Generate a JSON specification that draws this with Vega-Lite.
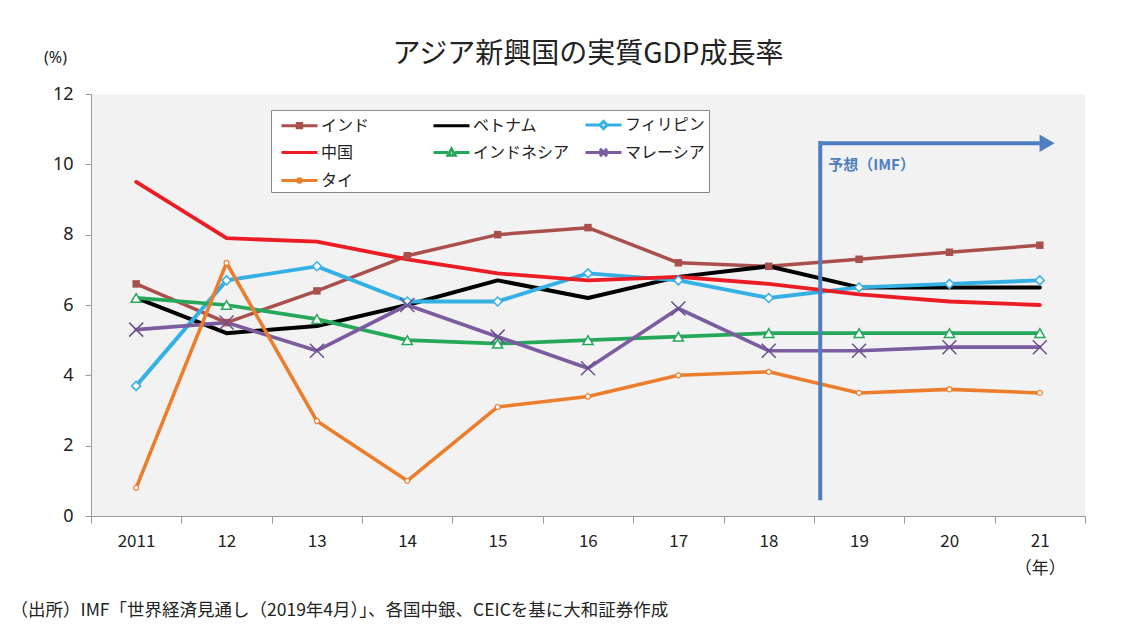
{
  "$schema": "https://vega.github.io/schema/vega-lite/v6.json",
  "width": 994,
  "height": 422,
  "autosize": {"type": "none"},
  "padding": {"left": 91, "top": 94, "right": 48, "bottom": 120},
  "background": "white",
  "title": {
    "text": "アジア新興国の実質GDP成長率",
    "font": "Noto Sans CJK JP",
    "fontSize": 28,
    "fontWeight": "normal",
    "color": "#222222",
    "anchor": "middle",
    "baseline": "alphabetic",
    "offset": -42
  },
  "config": {
    "view": {"fill": "#f2f2f2", "stroke": null},
    "font": "Noto Sans CJK JP"
  },
  "datasets": {
    "gdp": [
      {"country": "インド", "year": 2011, "value": 6.6},
      {"country": "インド", "year": 2012, "value": 5.5},
      {"country": "インド", "year": 2013, "value": 6.4},
      {"country": "インド", "year": 2014, "value": 7.4},
      {"country": "インド", "year": 2015, "value": 8.0},
      {"country": "インド", "year": 2016, "value": 8.2},
      {"country": "インド", "year": 2017, "value": 7.2},
      {"country": "インド", "year": 2018, "value": 7.1},
      {"country": "インド", "year": 2019, "value": 7.3},
      {"country": "インド", "year": 2020, "value": 7.5},
      {"country": "インド", "year": 2021, "value": 7.7},
      {"country": "ベトナム", "year": 2011, "value": 6.2},
      {"country": "ベトナム", "year": 2012, "value": 5.2},
      {"country": "ベトナム", "year": 2013, "value": 5.4},
      {"country": "ベトナム", "year": 2014, "value": 6.0},
      {"country": "ベトナム", "year": 2015, "value": 6.7},
      {"country": "ベトナム", "year": 2016, "value": 6.2},
      {"country": "ベトナム", "year": 2017, "value": 6.8},
      {"country": "ベトナム", "year": 2018, "value": 7.1},
      {"country": "ベトナム", "year": 2019, "value": 6.5},
      {"country": "ベトナム", "year": 2020, "value": 6.5},
      {"country": "ベトナム", "year": 2021, "value": 6.5},
      {"country": "フィリピン", "year": 2011, "value": 3.7},
      {"country": "フィリピン", "year": 2012, "value": 6.7},
      {"country": "フィリピン", "year": 2013, "value": 7.1},
      {"country": "フィリピン", "year": 2014, "value": 6.1},
      {"country": "フィリピン", "year": 2015, "value": 6.1},
      {"country": "フィリピン", "year": 2016, "value": 6.9},
      {"country": "フィリピン", "year": 2017, "value": 6.7},
      {"country": "フィリピン", "year": 2018, "value": 6.2},
      {"country": "フィリピン", "year": 2019, "value": 6.5},
      {"country": "フィリピン", "year": 2020, "value": 6.6},
      {"country": "フィリピン", "year": 2021, "value": 6.7},
      {"country": "中国", "year": 2011, "value": 9.5},
      {"country": "中国", "year": 2012, "value": 7.9},
      {"country": "中国", "year": 2013, "value": 7.8},
      {"country": "中国", "year": 2014, "value": 7.3},
      {"country": "中国", "year": 2015, "value": 6.9},
      {"country": "中国", "year": 2016, "value": 6.7},
      {"country": "中国", "year": 2017, "value": 6.8},
      {"country": "中国", "year": 2018, "value": 6.6},
      {"country": "中国", "year": 2019, "value": 6.3},
      {"country": "中国", "year": 2020, "value": 6.1},
      {"country": "中国", "year": 2021, "value": 6.0},
      {"country": "インドネシア", "year": 2011, "value": 6.2},
      {"country": "インドネシア", "year": 2012, "value": 6.0},
      {"country": "インドネシア", "year": 2013, "value": 5.6},
      {"country": "インドネシア", "year": 2014, "value": 5.0},
      {"country": "インドネシア", "year": 2015, "value": 4.9},
      {"country": "インドネシア", "year": 2016, "value": 5.0},
      {"country": "インドネシア", "year": 2017, "value": 5.1},
      {"country": "インドネシア", "year": 2018, "value": 5.2},
      {"country": "インドネシア", "year": 2019, "value": 5.2},
      {"country": "インドネシア", "year": 2020, "value": 5.2},
      {"country": "インドネシア", "year": 2021, "value": 5.2},
      {"country": "マレーシア", "year": 2011, "value": 5.3},
      {"country": "マレーシア", "year": 2012, "value": 5.5},
      {"country": "マレーシア", "year": 2013, "value": 4.7},
      {"country": "マレーシア", "year": 2014, "value": 6.0},
      {"country": "マレーシア", "year": 2015, "value": 5.1},
      {"country": "マレーシア", "year": 2016, "value": 4.2},
      {"country": "マレーシア", "year": 2017, "value": 5.9},
      {"country": "マレーシア", "year": 2018, "value": 4.7},
      {"country": "マレーシア", "year": 2019, "value": 4.7},
      {"country": "マレーシア", "year": 2020, "value": 4.8},
      {"country": "マレーシア", "year": 2021, "value": 4.8},
      {"country": "タイ", "year": 2011, "value": 0.8},
      {"country": "タイ", "year": 2012, "value": 7.2},
      {"country": "タイ", "year": 2013, "value": 2.7},
      {"country": "タイ", "year": 2014, "value": 1.0},
      {"country": "タイ", "year": 2015, "value": 3.1},
      {"country": "タイ", "year": 2016, "value": 3.4},
      {"country": "タイ", "year": 2017, "value": 4.0},
      {"country": "タイ", "year": 2018, "value": 4.1},
      {"country": "タイ", "year": 2019, "value": 3.5},
      {"country": "タイ", "year": 2020, "value": 3.6},
      {"country": "タイ", "year": 2021, "value": 3.5}
    ],
    "forecastV": [{"year": 2018.57, "value": 0.45, "value2": 10.66}],
    "forecastH": [{"year": 2018.57, "year2": 2021.0, "value": 10.6}],
    "arrowHead": [{"year": 2021.08, "value": 10.6}],
    "forecastLabel": [{"year": 2018.66, "value": 9.98, "label": "予想（IMF）"}]
  },
  "layer": [
    {
      "data": {"name": "gdp"},
      "mark": {"type": "line", "strokeJoin": "round", "strokeCap": "round"},
      "encoding": {
        "x": {
          "field": "year", "type": "quantitative",
          "scale": {"domain": [2010.5, 2021.5], "zero": false, "nice": false},
          "axis": {
            "values": [2010.5, 2011.5, 2012.5, 2013.5, 2014.5, 2015.5, 2016.5, 2017.5, 2018.5, 2019.5, 2020.5, 2021.5],
            "labelExpr": "datum.value == 2010.5 ? '2011' : (datum.value == 2020.5 ? ['21', '（年）'] : (datum.value == 2021.5 ? '' : format(datum.value + 0.5 - 2000, 'd')))",
            "labelOffset": 45,
            "labelOverlap": false,
            "labelFlush": false,
            "labelBound": false,
            "labelFont": "Noto Sans CJK JP",
            "labelFontSize": 17,
            "labelColor": "#222222",
            "labelPadding": 10,
            "labelLineHeight": 27,
            "labelBaseline": "top",
            "tickSize": 7,
            "tickColor": "#999999",
            "domainColor": "#999999",
            "grid": false,
            "title": "（出所）IMF「世界経済見通し（2019年4月）」、各国中銀、CEICを基に大和証券作成",
            "titleFont": "Noto Sans CJK JP",
            "titleFontSize": 17.5,
            "titleFontWeight": "normal",
            "titleColor": "#222222",
            "titleX": -81,
            "titleY": 94,
            "titleAlign": "left",
            "titleBaseline": "middle",
            "titleAnchor": "start"
          }
        },
        "y": {
          "field": "value", "type": "quantitative",
          "scale": {"domain": [0, 12], "nice": false},
          "axis": {
            "values": [0, 2, 4, 6, 8, 10, 12],
            "labelFont": "Noto Sans",
            "labelFontSize": 18,
            "labelColor": "#222222",
            "labelPadding": 12,
            "tickSize": 6,
            "tickColor": "#999999",
            "domainColor": "#999999",
            "grid": false,
            "title": "(%)",
            "titleFont": "Noto Sans",
            "titleFontSize": 16,
            "titleFontWeight": "normal",
            "titleColor": "#222222",
            "titleAngle": 0,
            "titleX": -36,
            "titleY": -37,
            "titleAlign": "center",
            "titleBaseline": "middle"
          }
        },
        "color": {
          "field": "country", "type": "nominal",
          "scale": {
            "domain": ["タイ", "マレーシア", "インドネシア", "中国", "フィリピン", "ベトナム", "インド"],
            "range": ["#ec7d2c", "#7a5c9f", "#25a85a", "#ec1c24", "#35b0e4", "#000000", "#a9504c"]
          },
          "legend": null
        },
        "strokeWidth": {
          "field": "country", "type": "nominal",
          "scale": {
            "domain": ["ベトナム", "フィリピン", "中国", "インドネシア", "マレーシア", "タイ", "インド"],
            "range": [4, 3.5, 4.5, 3.5, 4, 2.5, 2.5]
          },
          "legend": null
        }
      }
    },
    {
      "data": {"name": "gdp"},
      "transform": [{"filter": "datum.country == 'インド'"}],
      "mark": {"type": "point", "shape": "square", "filled": true, "color": "#a9504c", "size": 56, "opacity": 1},
      "encoding": {
        "x": {"field": "year", "type": "quantitative", "scale": {"domain": [2010.5, 2021.5], "zero": false, "nice": false}},
        "y": {"field": "value", "type": "quantitative", "scale": {"domain": [0, 12], "nice": false}}
      }
    },
    {
      "data": {"name": "gdp"},
      "transform": [{"filter": "datum.country == 'フィリピン'"}],
      "mark": {"type": "point", "shape": "diamond", "filled": true, "fill": "white", "stroke": "#35b0e4", "strokeWidth": 1.5, "size": 80, "opacity": 1},
      "encoding": {
        "x": {"field": "year", "type": "quantitative", "scale": {"domain": [2010.5, 2021.5], "zero": false, "nice": false}},
        "y": {"field": "value", "type": "quantitative", "scale": {"domain": [0, 12], "nice": false}}
      }
    },
    {
      "data": {"name": "gdp"},
      "transform": [{"filter": "datum.country == 'インドネシア'"}],
      "mark": {"type": "point", "shape": "triangle-up", "filled": true, "fill": "white", "stroke": "#25a85a", "strokeWidth": 1.5, "size": 100, "opacity": 1},
      "encoding": {
        "x": {"field": "year", "type": "quantitative", "scale": {"domain": [2010.5, 2021.5], "zero": false, "nice": false}},
        "y": {"field": "value", "type": "quantitative", "scale": {"domain": [0, 12], "nice": false}}
      }
    },
    {
      "data": {"name": "gdp"},
      "transform": [{"filter": "datum.country == 'マレーシア'"}],
      "mark": {"type": "point", "shape": "M-1,-1L1,1M1,-1L-1,1", "filled": false, "stroke": "#6a5090", "strokeWidth": 1.5, "size": 196, "opacity": 1},
      "encoding": {
        "x": {"field": "year", "type": "quantitative", "scale": {"domain": [2010.5, 2021.5], "zero": false, "nice": false}},
        "y": {"field": "value", "type": "quantitative", "scale": {"domain": [0, 12], "nice": false}}
      }
    },
    {
      "data": {"name": "gdp"},
      "transform": [{"filter": "datum.country == 'タイ'"}],
      "mark": {"type": "point", "shape": "circle", "filled": true, "fill": "white", "stroke": "#ec7d2c", "strokeWidth": 1.2, "size": 25, "opacity": 1},
      "encoding": {
        "x": {"field": "year", "type": "quantitative", "scale": {"domain": [2010.5, 2021.5], "zero": false, "nice": false}},
        "y": {"field": "value", "type": "quantitative", "scale": {"domain": [0, 12], "nice": false}}
      }
    },
    {
      "data": {"name": "gdp"},
      "transform": [{"filter": "datum.year > 3000"}],
      "mark": {"type": "point", "filled": true, "fill": "white", "strokeWidth": 3, "opacity": 1},
      "encoding": {
        "x": {"field": "year", "type": "quantitative", "scale": {"domain": [2010.5, 2021.5], "zero": false, "nice": false}},
        "y": {"field": "value", "type": "quantitative", "scale": {"domain": [0, 12], "nice": false}},
        "stroke": {
          "field": "country", "type": "nominal",
          "scale": {
            "domain": ["インド", "ベトナム", "フィリピン", "中国", "インドネシア", "マレーシア", "タイ"],
            "range": ["#a9504c", "#000000", "#35b0e4", "#ec1c24", "#25a85a", "#7a5c9f", "#ec7d2c"]
          },
          "legend": {
            "title": null,
            "orient": "none",
            "legendX": 180,
            "legendY": 16,
            "direction": "horizontal",
            "columns": 3,
            "columnPadding": 8,
            "rowPadding": 6,
            "padding": 3,
            "fillColor": "white",
            "strokeColor": "#888888",
            "symbolSize": 400,
            "symbolOffset": 14,
            "symbolStrokeWidth": 3,
            "symbolFillColor": "white",
            "labelFont": "Noto Sans CJK JP",
            "labelFontSize": 16,
            "labelColor": "#222222",
            "labelOffset": 10,
            "labelLimit": 200,
            "gridAlign": "all"
          }
        },
        "shape": {
          "field": "country", "type": "nominal",
          "scale": {
            "domain": ["インド", "ベトナム", "フィリピン", "中国", "インドネシア", "マレーシア", "タイ"],
            "range": [
              "M-1.8,0H1.8M-0.22,-0.22H0.22V0.22H-0.22Z",
              "M-1.8,0H1.8",
              "M-1.8,0H-0.36M0.36,0H1.8M-0.36,0L0,-0.36L0.36,0L0,0.36Z",
              "M-1.8,0H1.8",
              "M-1.8,0H-0.36M0.36,0H1.8M-0.36,0.27L0,-0.36L0.36,0.27Z",
              "M-1.8,0H1.8M-0.36,-0.36L0.36,0.36M0.36,-0.36L-0.36,0.36",
              "M-1.8,0H-0.18M0.18,0H1.8M-0.18,0A0.18,0.18 0 1,1 0.18,0A0.18,0.18 0 1,1 -0.18,0Z"
            ]
          },
          "legend": {
            "title": null,
            "orient": "none",
            "legendX": 180,
            "legendY": 16,
            "direction": "horizontal",
            "columns": 3,
            "columnPadding": 8,
            "rowPadding": 6,
            "padding": 3,
            "fillColor": "white",
            "strokeColor": "#888888",
            "symbolSize": 400,
            "symbolOffset": 14,
            "symbolStrokeWidth": 3,
            "symbolFillColor": "white",
            "labelFont": "Noto Sans CJK JP",
            "labelFontSize": 16,
            "labelColor": "#222222",
            "labelOffset": 10,
            "labelLimit": 200,
            "gridAlign": "all"
          }
        }
      }
    },
    {
      "data": {"name": "forecastV"},
      "mark": {"type": "rule", "color": "#4f7fc0", "strokeWidth": 4},
      "encoding": {
        "x": {"field": "year", "type": "quantitative", "scale": {"domain": [2010.5, 2021.5], "zero": false, "nice": false}},
        "y": {"field": "value", "type": "quantitative", "scale": {"domain": [0, 12], "nice": false}},
        "y2": {"field": "value2"}
      }
    },
    {
      "data": {"name": "forecastH"},
      "mark": {"type": "rule", "color": "#4f7fc0", "strokeWidth": 4},
      "encoding": {
        "x": {"field": "year", "type": "quantitative", "scale": {"domain": [2010.5, 2021.5], "zero": false, "nice": false}},
        "x2": {"field": "year2"},
        "y": {"field": "value", "type": "quantitative", "scale": {"domain": [0, 12], "nice": false}}
      }
    },
    {
      "data": {"name": "arrowHead"},
      "mark": {"type": "point", "shape": "triangle-right", "filled": true, "color": "#4f7fc0", "size": 300, "opacity": 1},
      "encoding": {
        "x": {"field": "year", "type": "quantitative", "scale": {"domain": [2010.5, 2021.5], "zero": false, "nice": false}},
        "y": {"field": "value", "type": "quantitative", "scale": {"domain": [0, 12], "nice": false}}
      }
    },
    {
      "data": {"name": "forecastLabel"},
      "mark": {"type": "text", "align": "left", "baseline": "middle", "font": "Noto Sans CJK JP", "fontSize": 15, "fontWeight": "bold", "color": "#4f7fc0"},
      "encoding": {
        "x": {"field": "year", "type": "quantitative", "scale": {"domain": [2010.5, 2021.5], "zero": false, "nice": false}},
        "y": {"field": "value", "type": "quantitative", "scale": {"domain": [0, 12], "nice": false}},
        "text": {"field": "label"}
      }
    }
  ]
}
